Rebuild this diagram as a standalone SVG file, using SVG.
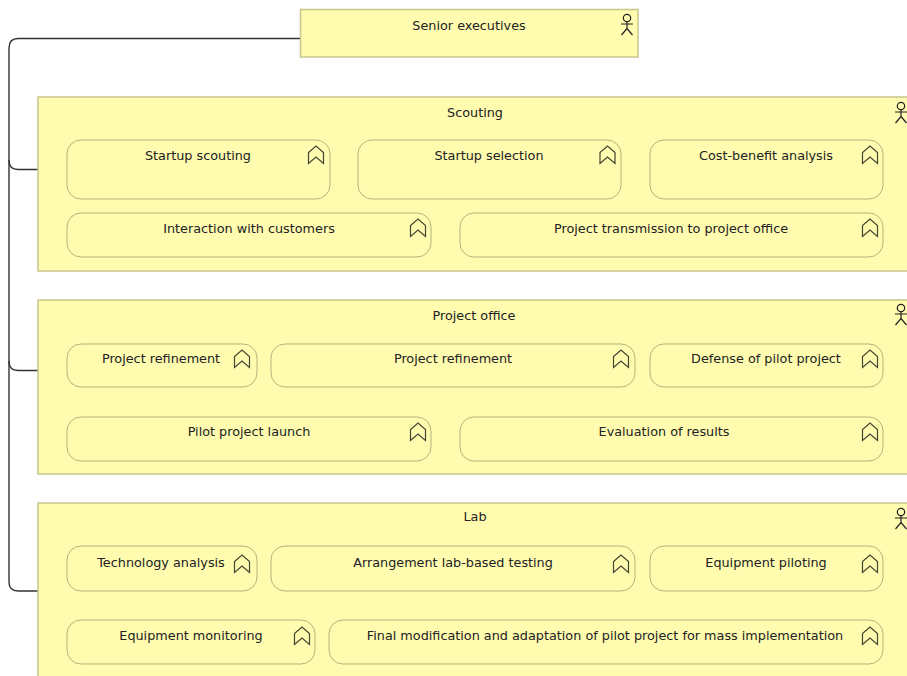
<svg xmlns="http://www.w3.org/2000/svg" width="907" height="676" viewBox="0 0 907 676">
<style>
.g{fill:#fffcb0;stroke:#c8c68c;stroke-width:1.5}
.r{fill:#fffcb0;stroke:#b5b37c;stroke-width:1}
.i{fill:none;stroke:#444433;stroke-width:1.2}
.a{fill:none;stroke:#222;stroke-width:1.2}
.c{fill:none;stroke:#333;stroke-width:1.4}
text{font-family:"DejaVu Sans","Noto Sans",sans-serif;font-size:12.8px;fill:#222;text-anchor:middle}
</style>
<defs>
<g id="fn"><path class="i" d="M-7.500 8.500V-2.500L0-9L7.500-2.500V8.500L0 2Z"/></g>
<g id="ac"><circle class="a" cx="0" cy="-6" r="3.700"/><path class="a" d="M0-2.300V4.500M-6 0H6M-5.500 11L0 4.500L5.500 11"/></g>
</defs>
<g id="connectors">
<path class="c" d="M301 38.500H18Q9 38.500 9 48V582Q9 591 18 591H38"/>
<path class="c" d="M9 160Q9 169.500 18 169.500H38"/>
<path class="c" d="M9 361Q9 370.500 18 370.500H38"/>
</g>
<g id="senior"><rect class="g" x="300.500" y="9.500" width="337.500" height="47.500"/><text x="469" y="30">Senior executives</text><use href="#ac" x="627" y="24"/></g>
<g id="scouting"><rect class="g" x="38" y="97" width="880" height="174"/><text x="475" y="117">Scouting</text><use href="#ac" x="901" y="112"/></g>
<g id="n1"><rect class="r" x="67" y="140" width="263" height="59" rx="14"/><text x="198" y="160">Startup scouting</text><use href="#fn" x="316" y="155"/></g>
<g id="n2"><rect class="r" x="358" y="140" width="263" height="59" rx="14"/><text x="489" y="160">Startup selection</text><use href="#fn" x="607.500" y="155"/></g>
<g id="n3"><rect class="r" x="650" y="140" width="233" height="59" rx="14"/><text x="766" y="160">Cost-benefit analysis</text><use href="#fn" x="870" y="155"/></g>
<g id="n4"><rect class="r" x="67" y="213" width="364" height="44" rx="14"/><text x="249" y="233">Interaction with customers</text><use href="#fn" x="418" y="228"/></g>
<g id="n5"><rect class="r" x="460" y="213" width="423" height="44" rx="14"/><text x="671" y="233">Project transmission to project office</text><use href="#fn" x="870" y="228"/></g>
<g id="office"><rect class="g" x="38" y="300" width="880" height="174"/><text x="474" y="320">Project office</text><use href="#ac" x="901" y="314"/></g>
<g id="n6"><rect class="r" x="67" y="344" width="190" height="43" rx="14"/><text x="161" y="363">Project refinement</text><use href="#fn" x="242" y="359"/></g>
<g id="n7"><rect class="r" x="271" y="344" width="364" height="43" rx="14"/><text x="453" y="363">Project refinement</text><use href="#fn" x="621" y="359"/></g>
<g id="n8"><rect class="r" x="650" y="344" width="233" height="43" rx="14"/><text x="766" y="363">Defense of pilot project</text><use href="#fn" x="870" y="359"/></g>
<g id="n9"><rect class="r" x="67" y="417" width="364" height="44" rx="14"/><text x="249" y="436">Pilot project launch</text><use href="#fn" x="418" y="432"/></g>
<g id="n10"><rect class="r" x="460" y="417" width="423" height="44" rx="14"/><text x="664" y="436">Evaluation of results</text><use href="#fn" x="870" y="432"/></g>
<g id="lab"><rect class="g" x="38" y="503" width="880" height="190"/><text x="475" y="521">Lab</text><use href="#ac" x="901" y="518"/></g>
<g id="n11"><rect class="r" x="67" y="546" width="190" height="45" rx="14"/><text x="161" y="567">Technology analysis</text><use href="#fn" x="242" y="564"/></g>
<g id="n12"><rect class="r" x="271" y="546" width="364" height="45" rx="14"/><text x="453" y="567">Arrangement lab-based testing</text><use href="#fn" x="621" y="564"/></g>
<g id="n13"><rect class="r" x="650" y="546" width="233" height="45" rx="14"/><text x="766" y="567">Equipment piloting</text><use href="#fn" x="870" y="564"/></g>
<g id="n14"><rect class="r" x="67" y="620" width="248" height="44" rx="14"/><text x="191" y="640">Equipment monitoring</text><use href="#fn" x="302" y="636"/></g>
<g id="n15"><rect class="r" x="329" y="620" width="554" height="44" rx="14"/><text x="605" y="640">Final modification and adaptation of pilot project for mass implementation</text><use href="#fn" x="870" y="636"/></g>
</svg>
